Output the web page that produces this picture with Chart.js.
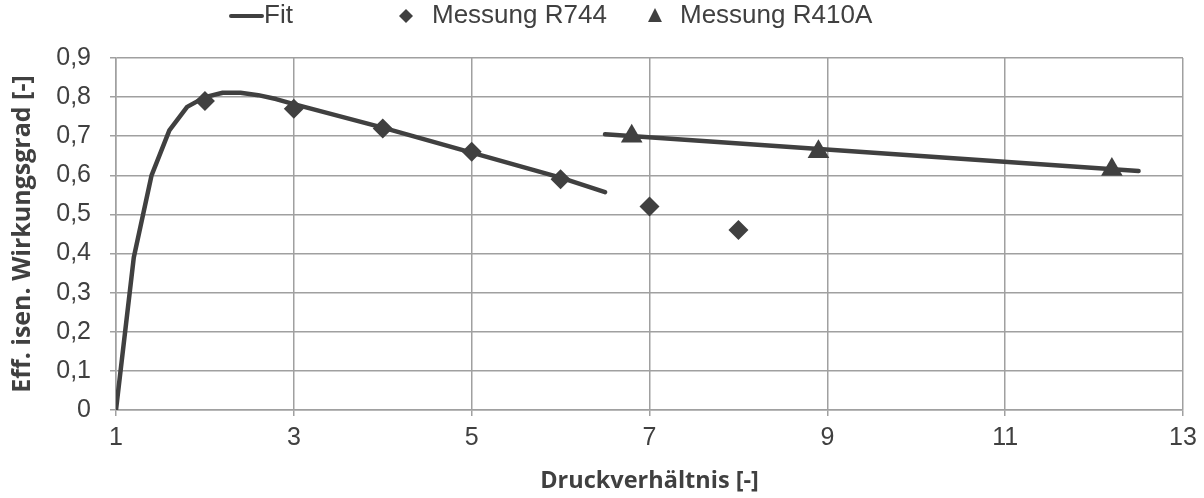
<!DOCTYPE html>
<html>
<head>
<meta charset="utf-8">
<script src="https://cdn.jsdelivr.net/npm/chart.js@4.4.1/dist/chart.umd.min.js"></script>
<style>
  html, body { margin: 0; padding: 0; background: #ffffff; }
  #wrap { width: 1204px; height: 498px; position: relative; }
</style>
</head>
<body>
<div id="wrap"><canvas id="c" width="1204" height="498"></canvas></div>
<script>
// ---- Data ----
const fitLabel = "Fit";
const r744Label = "Messung R744";
const r410aLabel = "Messung R410A";

const fitR744X = [1.0, 1.2, 1.4, 1.6, 1.8, 2.0, 2.2, 2.4, 2.6, 2.8, 3.0, 3.5, 4.0, 4.5, 5.0, 5.5, 6.0, 6.5];
const fitR744Y = [0.0, 0.39, 0.60, 0.715, 0.775, 0.80, 0.811, 0.811, 0.805, 0.795, 0.782, 0.752, 0.722, 0.69, 0.658, 0.626, 0.594, 0.557];

const fitR410aX = [6.5, 12.5];
const fitR410aY = [0.705, 0.611];

const r744X = [2, 3, 4, 5, 6, 7, 8];
const r744Y = [0.79, 0.77, 0.72, 0.66, 0.59, 0.52, 0.46];

const r410aX = [6.8, 8.9, 12.2];
const r410aY = [0.70, 0.66, 0.615];

const xTitle = "Druckverhältnis [-]";
const yTitle = "Eff. isen. Wirkungsgrad [-]";

// ---- Build datasets ----
const dark = '#404040';
const fitPoints = fitR744X.map((x, i) => ({x: x, y: fitR744Y[i]}))
  .concat([{x: fitR410aX[0], y: null}])
  .concat(fitR410aX.map((x, i) => ({x: x, y: fitR410aY[i]})));

const tickFont = { family: "'Liberation Sans', Arial, sans-serif", size: 25 };
const legendFontSize = 26;
const xTitleFont = { family: "'Open Sans', sans-serif", size: 23.5, weight: 'bold' };
const yTitleFont = { family: "'Open Sans', sans-serif", size: 25, weight: 'bold' };

const legendPlugin = {
  id: 'customLegend',
  afterDraw(chart) {
    const ctx = chart.ctx;
    const cy = 16;
    ctx.save();
    ctx.fillStyle = dark;
    ctx.strokeStyle = dark;
    ctx.font = legendFontSize + 'px ' + tickFont.family;
    ctx.textBaseline = 'middle';
    ctx.textAlign = 'left';
    // Fit line
    ctx.lineWidth = 4;
    ctx.lineCap = 'round';
    ctx.beginPath();
    ctx.moveTo(231, cy);
    ctx.lineTo(262, cy);
    ctx.stroke();
    ctx.fillText(fitLabel, 264, cy);
    // diamond
    const dx = 406, r = 7;
    ctx.beginPath();
    ctx.moveTo(dx, cy - r);
    ctx.lineTo(dx + r, cy);
    ctx.lineTo(dx, cy + r);
    ctx.lineTo(dx - r, cy);
    ctx.closePath();
    ctx.fill();
    ctx.fillText(r744Label, 432, cy);
    // triangle
    const tx = 655, tr = 8;
    ctx.beginPath();
    ctx.moveTo(tx, cy - tr);
    ctx.lineTo(tx + tr * 0.87, cy + tr * 0.75);
    ctx.lineTo(tx - tr * 0.87, cy + tr * 0.75);
    ctx.closePath();
    ctx.fill();
    ctx.fillText(r410aLabel, 680, cy);
    ctx.restore();
  }
};

new Chart(document.getElementById('c'), {
  type: 'scatter',
  data: {
    datasets: [
      {
        label: r744Label,
        data: r744X.map((x, i) => ({x: x, y: r744Y[i]})),
        pointStyle: 'rectRot',
        pointRadius: 10,
        pointHoverRadius: 10,
        backgroundColor: dark,
        borderColor: dark,
        borderWidth: 0,
        showLine: false,
        order: 1
      },
      {
        label: r410aLabel,
        data: r410aX.map((x, i) => ({x: x, y: r410aY[i]})),
        pointStyle: 'triangle',
        pointRadius: 12.5,
        pointHoverRadius: 12.5,
        backgroundColor: dark,
        borderColor: dark,
        borderWidth: 0,
        showLine: false,
        order: 2
      },
      {
        label: fitLabel,
        data: fitPoints,
        showLine: true,
        spanGaps: false,
        borderColor: dark,
        borderWidth: 4.5,
        pointRadius: 0,
        pointHoverRadius: 0,
        tension: 0,
        borderJoinStyle: 'round',
        borderCapStyle: 'round',
        order: 3
      }
    ]
  },
  options: {
    responsive: false,
    animation: false,
    events: [],
    layout: { padding: { top: 58, right: 21, left: 0, bottom: 0 } },
    plugins: {
      legend: { display: false },
      tooltip: { enabled: false }
    },
    scales: {
      x: {
        type: 'linear',
        min: 1, max: 13,
        afterFit(scale) { scale.height = 88; },
        ticks: {
          stepSize: 2,
          font: tickFont,
          color: dark,
          padding: 7,
          maxRotation: 0
        },
        grid: { color: '#a0a0a0', lineWidth: 1.5, tickLength: 6, drawTicks: true },
        border: { display: true, color: '#a0a0a0', width: 1.5 },
        title: {
          display: true,
          text: xTitle,
          font: xTitleFont,
          color: dark,
          padding: { top: 0, bottom: 3 }
        }
      },
      y: {
        type: 'linear',
        min: 0, max: 0.9,
        afterFit(scale) { scale.width = 116; },
        ticks: {
          stepSize: 0.1,
          font: tickFont,
          color: dark,
          padding: 19,
          callback: (v) => {
            const s = (Math.round(v * 10) / 10).toString();
            return s.replace('.', ',');
          }
        },
        grid: { color: '#a0a0a0', lineWidth: 1.5, tickLength: 6, drawTicks: true },
        border: { display: true, color: '#a0a0a0', width: 1.5 },
        title: {
          display: true,
          text: yTitle,
          font: yTitleFont,
          color: dark,
          padding: { top: 8, bottom: 0 }
        }
      }
    }
  },
  plugins: [legendPlugin]
});
</script>
</body>
</html>
